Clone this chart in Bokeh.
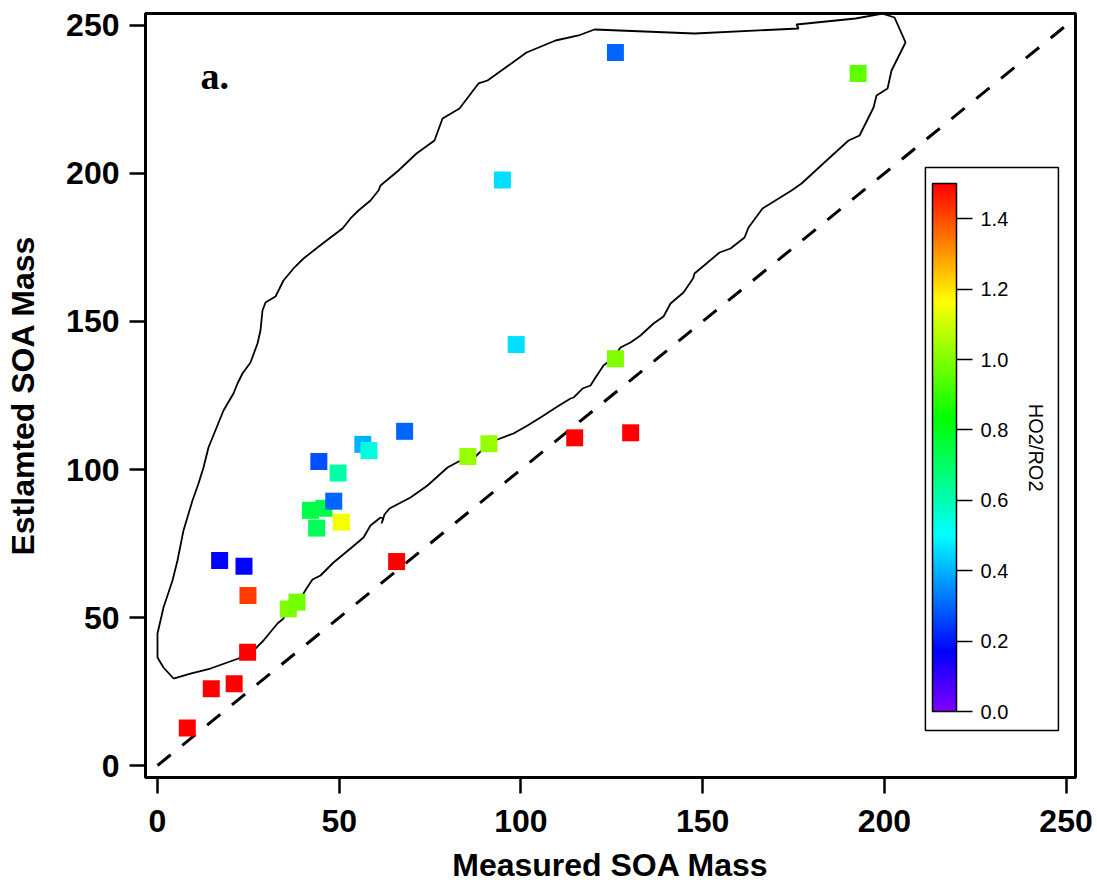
import math
import colorsys
from bokeh.plotting import figure
from bokeh.models import (ColumnDataSource, LinearColorMapper, ColorBar, FixedTicker,
                          Range1d, Label, PrintfTickFormatter)
from bokeh.transform import transform
from bokeh.embed import file_html
from bokeh.resources import INLINE

# ---------------- data ----------------
measured = [8.2, 14.8, 21.1, 24.8, 24.9, 17.1, 23.8, 36.0, 38.4, 42.1, 45.8, 43.8, 48.5,
            50.6, 44.4, 49.7, 56.5, 58.2, 68.0, 65.8, 85.4, 91.2, 94.9, 98.7, 114.8,
            130.2, 126.0, 126.0, 192.8]
estimated = [12.7, 25.9, 27.6, 38.3, 57.4, 69.3, 67.3, 52.9, 55.2, 86.2, 86.9, 80.2, 89.3,
             82.2, 102.7, 98.8, 108.5, 106.4, 112.9, 68.9, 104.4, 108.7, 197.8, 142.2,
             110.7, 112.4, 137.4, 240.9, 233.8]
ho2_ro2 = [1.5, 1.5, 1.5, 1.5, 1.42, 0.17, 0.17, 1.0, 0.98, 0.74, 0.74, 0.72, 0.30,
           1.15, 0.27, 0.61, 0.40, 0.54, 0.30, 1.5, 1.03, 1.03, 0.46, 0.46, 1.5,
           1.5, 1.0, 0.30, 0.96]

# envelope contour (closed curve)
env_x = [4.40, 9.08, 14.58, 22.29, 26.42, 29.17, 33.02, 34.67, 35.22, 37.15, 39.35, 41.00,
         42.65, 44.85, 48.43, 53.11, 56.69, 58.61, 61.37, 62.19, 61.64, 62.47, 63.84, 69.62,
         74.30, 79.80, 83.38, 86.96, 91.08, 93.56, 97.96, 101.82, 105.39, 110.07, 113.65,
         114.47, 116.95, 119.15, 120.53, 122.73, 125.21, 127.41, 130.16, 132.91, 136.49,
         139.24, 141.17, 144.74, 147.36, 147.77, 154.65, 157.68, 161.53, 162.63, 166.48,
         174.46, 177.22, 184.10, 190.15, 193.18, 197.03, 197.85, 200.88, 201.98, 205.83,
         202.81, 199.51,
         192.08, 175.84, 176.39, 147.77, 120.25, 115.85, 109.52, 101.54, 90.81, 88.33,
         83.10, 78.43, 76.22, 71.27, 66.32, 61.37, 60.81, 58.61, 55.31, 53.11, 50.91,
         47.61, 44.03, 40.18, 37.42, 34.67, 33.30, 32.47, 29.72, 28.89, 28.34, 27.52,
         25.59, 23.39, 22.01, 20.91, 18.16, 14.03, 12.66, 11.28, 9.63, 7.15, 5.50, 4.13,
         1.65, 0.00, 0.00, 1.65, 4.40]
env_y = [29.39, 31.08, 32.77, 36.15, 38.85, 42.23, 47.97, 49.66, 52.03, 54.05, 56.42, 59.80,
         62.84, 64.19, 68.58, 73.31, 77.03, 81.08, 83.78, 83.45, 81.76, 84.80, 86.82, 90.54,
         94.59, 100.68, 103.04, 103.72, 108.78, 110.14, 112.16, 114.86, 117.57, 121.28,
         123.99, 124.32, 127.36, 128.38, 131.08, 135.14, 137.50, 141.22, 142.91, 145.27,
         149.32, 151.69, 156.08, 159.80, 164.53, 166.22, 173.31, 174.66, 178.38, 181.76,
         188.18, 194.26, 196.62, 204.39, 211.15, 212.84, 222.30, 226.35, 228.72, 234.80,
         244.26, 252.70, 254.0,
         252.36, 250.34, 248.99, 247.30, 248.65, 246.62, 244.93, 240.88, 231.42, 230.41,
         221.96, 218.58, 211.15, 206.76, 201.01, 195.95, 194.26, 190.88, 187.50, 184.80,
         181.42, 178.38, 175.00, 171.28, 167.91, 163.85, 160.47, 158.45, 156.42, 153.72,
         146.96, 142.57, 136.15, 132.43, 129.05, 125.68, 119.93, 107.43, 100.68, 95.27,
         89.53, 79.39, 69.26, 62.50, 53.38, 44.59, 36.49, 33.11, 29.39]

one_to_one = [0, 250]
axis_ticks = [0, 50, 100, 150, 200, 250]
cbar_ticks = [0.0, 0.2, 0.4, 0.6, 0.8, 1.0, 1.2, 1.4]
cbar_low, cbar_high = 0.0, 1.5

# rainbow palette (violet -> red), hue linear
palette = []
for i in range(256):
    h = 270.0 * (1 - i / 255.0) / 360.0
    r, g, b = colorsys.hsv_to_rgb(h, 1, 1)
    palette.append("#%02x%02x%02x" % (round(r * 255), round(g * 255), round(b * 255)))
mapper = LinearColorMapper(palette=palette, low=cbar_low, high=cbar_high)

# ---------------- figure ----------------
p = figure(width=1097, height=886, output_backend="svg", toolbar_location=None,
           x_range=Range1d(-3.3, 252.6), y_range=Range1d(-4.05, 254.05),
           min_border_left=145, min_border_right=22, min_border_top=13,
           min_border_bottom=109)
p.grid.visible = False
p.outline_line_color = "black"
p.outline_line_width = 3
p.background_fill_color = "white"
p.border_fill_color = "white"

for ax in (p.xaxis[0], p.yaxis[0]):
    ax.ticker = FixedTicker(ticks=axis_ticks)
    ax.axis_line_width = 3
    ax.axis_line_color = "black"
    ax.major_tick_line_width = 2.5
    ax.major_tick_line_color = "black"
    ax.major_tick_out = 16
    ax.major_tick_in = 0
    ax.minor_tick_out = 0
    ax.minor_tick_in = 0
    ax.major_label_text_font = "Liberation Sans"
    ax.major_label_text_font_style = "bold"
    ax.major_label_text_font_size = "32px"
    ax.major_label_text_color = "black"
    ax.axis_label_text_font = "Liberation Sans"
    ax.axis_label_text_font_style = "bold"
    ax.axis_label_text_font_size = "32px"
    ax.axis_label_text_color = "black"

p.xaxis[0].axis_label = "Measured SOA Mass"
p.yaxis[0].axis_label = "Estlamted SOA Mass"
p.xaxis[0].major_label_standoff = 16
p.yaxis[0].major_label_standoff = 10
p.xaxis[0].axis_label_standoff = 12
p.yaxis[0].axis_label_standoff = 22

# envelope and 1:1 line
p.line(env_x, env_y, line_color="black", line_width=1.8)
p.line(one_to_one, one_to_one, line_color="black", line_width=3, line_dash="17 15")

src = ColumnDataSource(dict(x=measured, y=estimated, c=ho2_ro2))
p.scatter("x", "y", source=src, marker="square", size=17,
          fill_color=transform("c", mapper), line_color=None)

# colorbar box (legend frame)
p.quad(left=[211.3], right=[247.9], bottom=[11.8], top=[202.0],
       fill_color="white", line_color="black", line_width=1.5)

cb = ColorBar(color_mapper=mapper, ticker=FixedTicker(ticks=cbar_ticks),
              formatter=PrintfTickFormatter(format="%.1f"),
              width=24, height=528, location=(787, 66), padding=0,
              border_line_color=None, background_fill_alpha=0,
              bar_line_color="black", bar_line_width=1.5,
              major_tick_out=16, major_tick_in=0,
              major_tick_line_color="black", major_tick_line_width=1.5,
              minor_tick_line_color=None,
              major_label_text_font="Liberation Sans",
              major_label_text_font_size="20px",
              major_label_text_color="black",
              label_standoff=8)
p.add_layout(cb)

p.add_layout(Label(x=241.6, y=107.4, text="HO2/RO2", angle=-math.pi / 2,
                   text_align="center", text_baseline="middle",
                   text_font="Liberation Sans", text_font_size="20px",
                   text_color="black"))

p.add_layout(Label(x=11.8, y=232.8, text="a.", text_font="Liberation Serif",
                   text_font_style="bold", text_font_size="38px",
                   text_baseline="alphabetic", text_color="black"))

open("out.html", "w").write(file_html(p, INLINE))
